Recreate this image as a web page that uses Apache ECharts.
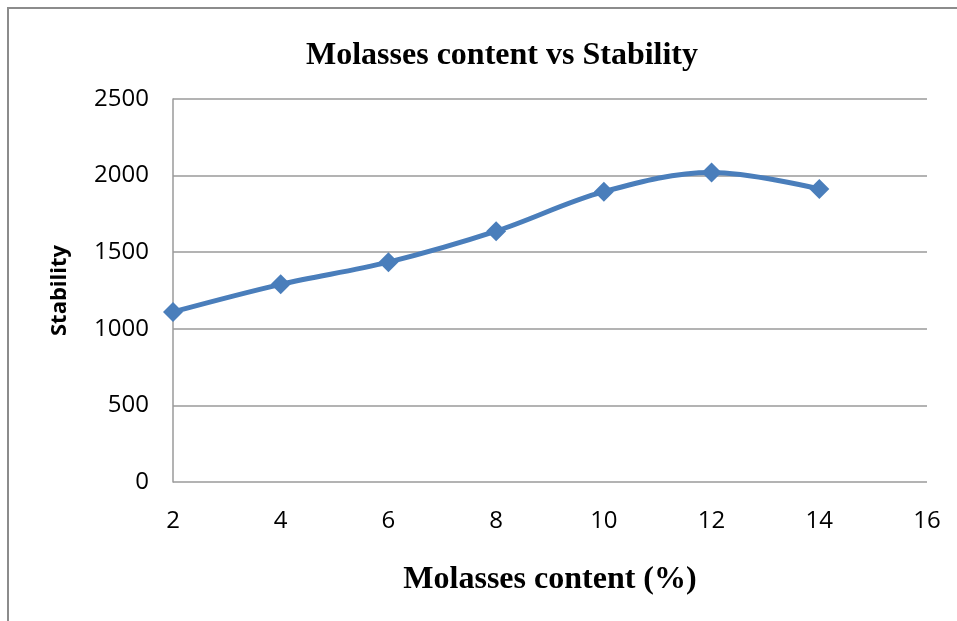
<!DOCTYPE html>
<html>
<head>
<meta charset="utf-8">
<script src="https://cdn.jsdelivr.net/npm/echarts@6/dist/echarts.min.js"></script>
<style>
  html, body { margin: 0; padding: 0; background: #fff; }
  #chart { width: 957px; height: 621px; }
</style>
</head>
<body>
<div id="chart"></div>
<script>
// molasses content (%) and measured stability
var molasses = [2, 4, 6, 8, 10, 12, 14];
var stability = [1110, 1290, 1435, 1637, 1895, 2020, 1913];

var chart = echarts.init(document.getElementById('chart'));

var option = {
  animation: false,
  backgroundColor: '#fff',
  title: {
    text: 'Molasses content vs Stability',
    left: 497,
    textAlign: 'center',
    top: 35,
    textStyle: {
      fontFamily: 'Liberation Serif',
      fontWeight: 'bold',
      fontSize: 32,
      color: '#000'
    }
  },
  graphic: [
    {
      // outer chart frame, only top and left edges are visible
      type: 'rect',
      shape: { x: 8, y: 8, width: 1000, height: 700 },
      style: { fill: 'none', stroke: '#8c8c8c', lineWidth: 2 },
      silent: true
    }
  ],
  grid: { left: 173, right: 30, top: 99, bottom: 139 },
  xAxis: {
    type: 'value',
    min: 2,
    max: 16,
    interval: 2,
    name: 'Molasses content (%)',
    nameLocation: 'middle',
    nameGap: 82,
    nameTextStyle: {
      fontFamily: 'Liberation Serif',
      fontWeight: 'bold',
      fontSize: 32,
      color: '#000'
    },
    axisLine: { show: false },
    axisTick: { show: false },
    splitLine: { show: false },
    axisLabel: {
      margin: 27,
      fontFamily: 'Open Sans',
      fontSize: 24,
      color: '#000'
    }
  },
  yAxis: {
    type: 'value',
    min: 0,
    max: 2500,
    interval: 500,
    name: 'Stability',
    nameLocation: 'middle',
    nameGap: 102,
    nameTextStyle: {
      fontFamily: 'Open Sans',
      fontWeight: 'bold',
      fontSize: 22,
      color: '#000'
    },
    axisLine: { show: true, lineStyle: { color: '#9a9a9a', width: 1.5 } },
    axisTick: { show: false },
    splitLine: { show: true, lineStyle: { color: '#9a9a9a', width: 1.5 } },
    axisLabel: {
      margin: 24,
      fontFamily: 'Open Sans',
      fontSize: 24,
      color: '#000',
      formatter: function (v) { return String(v); }
    }
  },
  series: [
    {
      type: 'line',
      data: molasses.map(function (x, i) { return [x, stability[i]]; }),
      smooth: 0.35,
      symbol: 'diamond',
      symbolSize: [20, 20],
      lineStyle: { color: '#4a7ebb', width: 5 },
      itemStyle: { color: '#4a7ebb' }
    }
  ]
};

chart.setOption(option);
</script>
</body>
</html>
